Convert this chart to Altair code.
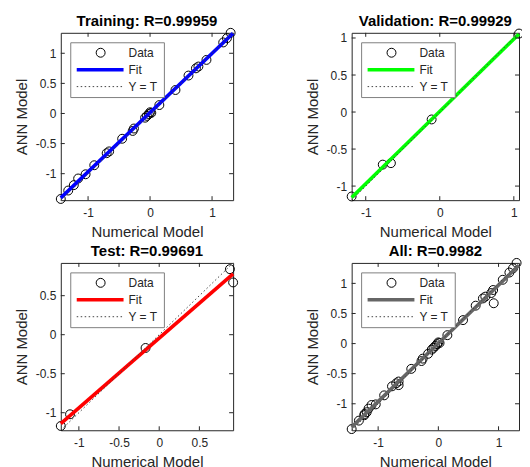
import altair as alt
import pandas as pd

FONT = "Liberation Sans"

# ---- data ----
train_x = [-1.44, -1.32, -1.23, -1.16, -1.04, -0.90, -0.70, -0.66, -0.45, -0.28, -0.26,
           -0.08, -0.05, -0.02, 0.00, 0.02, 0.15, 0.41, 0.62, 0.74, 0.78, 0.91, 1.18, 1.24, 1.30]
train_y = [-1.42, -1.28, -1.19, -1.08, -1.01, -0.86, -0.66, -0.63, -0.42, -0.29, -0.25,
           -0.07, -0.04, -0.01, 0.02, 0.01, 0.14, 0.39, 0.63, 0.75, 0.78, 0.89, 1.18, 1.25, 1.34]
val_x = [-1.19, -0.77, -0.66, -0.11, 1.07]
val_y = [-1.14, -0.71, -0.69, -0.10, 1.06]
test_x = [-1.225, -1.11, -0.17, 0.88, 0.92]
test_y = [-1.17, -1.02, -0.17, 0.84, 0.67]

titles = ["Training: R=0.99959", "Validation: R=0.99929", "Test: R=0.99691", "All: R=0.9982"]
domains = [[-1.44, 1.34], [-1.19, 1.07], [-1.225, 0.92], [-1.44, 1.34]]
x_ticks = [[-1, 0, 1], [-1, 0, 1], [-1, -0.5, 0, 0.5], [-1, 0, 1]]
y_ticks = [[-1, -0.5, 0, 0.5, 1], [-1, -0.5, 0, 0.5, 1], [-1, -0.5, 0, 0.5], [-1, -0.5, 0, 0.5, 1]]
fit_colors = ["#0000ff", "#00ff00", "#ff0000", "#666666"]
legend_labels = ["Data", "Fit", "Y = T"]
x_title = "Numerical Model"
y_title = "ANN Model"

W_LEFT, W_RIGHT, H = 173, 168, 168
AXC = "#262626"


def panel(xs, ys, dom, xt, yt, color, title, W):
    df = pd.DataFrame({"t": xs, "o": ys})
    xaxis = alt.Axis(values=xt, title=x_title, grid=False, domain=False, ticks=False, tickSize=0,
                     labelExpr="'' + datum.value", labelPadding=7, titlePadding=6)
    yaxis = alt.Axis(values=yt, title=y_title, grid=False, domain=False, ticks=False, tickSize=0,
                     labelExpr="'' + datum.value", labelPadding=5, titlePadding=6)
    X = alt.X("t:Q", scale=alt.Scale(domain=dom, nice=False, zero=False), axis=xaxis)
    Y = alt.Y("o:Q", scale=alt.Scale(domain=dom, nice=False, zero=False), axis=yaxis)

    pts = alt.Chart(df).mark_point(shape="circle", filled=False, size=80, color="black",
                                   strokeWidth=1, opacity=1).encode(x=X, y=Y)
    fit = alt.Chart(df).transform_regression("t", "o", extent=dom).mark_line(
        color=color, strokeWidth=3.6).encode(x=X, y=Y)
    ident = alt.Chart(pd.DataFrame({"t": dom, "o": dom})).mark_line(
        color="#444444", strokeDash=[1.5, 2.5], strokeWidth=1).encode(x=X, y=Y)

    xt_df = pd.DataFrame({"t": xt})
    yt_df = pd.DataFrame({"o": yt})
    tb = alt.Chart(xt_df).mark_rule(color=AXC).encode(x=X, y=alt.value(H), y2=alt.value(H - 4))
    tt = alt.Chart(xt_df).mark_rule(color=AXC).encode(x=X, y=alt.value(0), y2=alt.value(4))
    tl = alt.Chart(yt_df).mark_rule(color=AXC).encode(y=Y, x=alt.value(0), x2=alt.value(4))
    tr = alt.Chart(yt_df).mark_rule(color=AXC).encode(y=Y, x=alt.value(W), x2=alt.value(W - 4))

    one = pd.DataFrame({"a": [0]})
    ttl = alt.Chart(one).mark_text(align="center", baseline="middle", font=FONT, fontSize=15,
                                   fontWeight="bold", color="black").encode(
        x=alt.value(W / 2), y=alt.value(-11.5), text=alt.value(title))
    box = alt.Chart(one).mark_rect(fill="white", stroke="#808080", strokeWidth=1).encode(
        x=alt.value(10), x2=alt.value(104), y=alt.value(10), y2=alt.value(65))
    l_pt = alt.Chart(one).mark_point(shape="circle", filled=False, size=80, color="black",
                                     strokeWidth=1, opacity=1).encode(x=alt.value(40), y=alt.value(20))
    l_fit = alt.Chart(one).mark_rule(color=color, strokeWidth=3.6).encode(
        x=alt.value(16), x2=alt.value(63), y=alt.value(37))
    l_id = alt.Chart(one).mark_rule(color="#444444", strokeDash=[1.5, 2.5], strokeWidth=1).encode(
        x=alt.value(16), x2=alt.value(63), y=alt.value(54))
    texts = [
        alt.Chart(one).mark_text(align="left", baseline="middle", font=FONT, fontSize=12,
                                 color=AXC).encode(x=alt.value(68), y=alt.value(yy), text=alt.value(lab))
        for lab, yy in zip(legend_labels, [20, 37, 54])
    ]

    return alt.layer(pts, fit, ident, tb, tt, tl, tr, box, l_pt, l_fit, l_id, ttl, *texts).properties(
        width=W, height=H,
    )


all_x = train_x + val_x + test_x
all_y = train_y + val_y + test_y

p1 = panel(train_x, train_y, domains[0], x_ticks[0], y_ticks[0], fit_colors[0], titles[0], W_LEFT)
p2 = panel(val_x, val_y, domains[1], x_ticks[1], y_ticks[1], fit_colors[1], titles[1], W_RIGHT)
p3 = panel(test_x, test_y, domains[2], x_ticks[2], y_ticks[2], fit_colors[2], titles[2], W_LEFT)
p4 = panel(all_x, all_y, domains[3], x_ticks[3], y_ticks[3], fit_colors[3], titles[3], W_RIGHT)

chart = alt.concat(
    p1, p2, p3, p4, columns=2, bounds="flush",
    spacing=alt.RowColnumber(row=63, column=119),
).configure_view(
    stroke=AXC, strokeWidth=1
).configure_axis(
    labelFont=FONT, labelFontSize=12, labelColor=AXC,
    titleFont=FONT, titleFontSize=15, titleFontWeight="normal", titleColor=AXC,
).properties(
    background="white",
    padding={"left": 5, "top": 5, "right": -5, "bottom": 5},
)

chart.save("out.html", embed_options={"renderer": "svg", "actions": False})
